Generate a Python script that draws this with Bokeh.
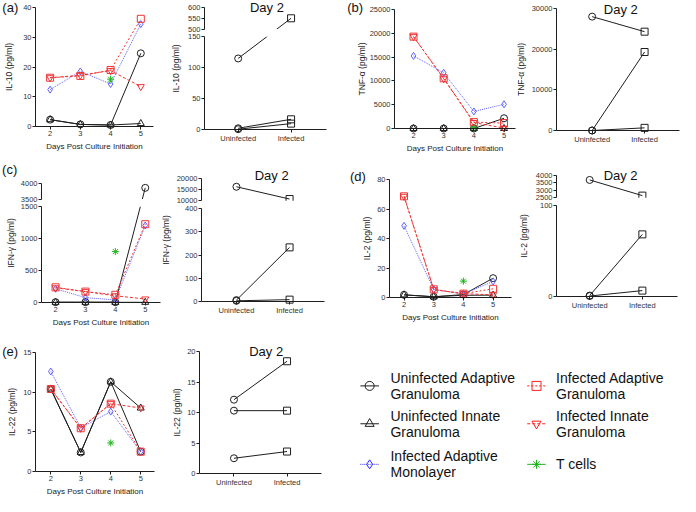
from bokeh.plotting import figure
from bokeh.layouts import row, column
from bokeh.models import (Range1d, FixedTicker, ColumnDataSource, CustomJSTransform,
                          CustomJSTickFormatter, BoxAnnotation, Label, LinearAxis, AllLabels)
from bokeh.transform import transform
from bokeh.core.properties import value
from bokeh.embed import file_html
from bokeh.resources import INLINE

# ---------------- data ----------------
days = [2, 3, 4, 5]
tcell_days = [4]
groups = ["Uninfected", "Infected"]

# (a) IL-10
il10_uninf_adaptive_gran = [2.3, 0.7, 0.5, 24.6]
il10_uninf_innate_gran = [2.3, 0.7, 0.5, 1.0]
il10_inf_adaptive_mono = [12.4, 18.5, 14.3, 34.4]
il10_inf_adaptive_gran = [16.4, 17.0, 19.0, 36.2]
il10_inf_innate_gran = [16.4, 17.2, 18.8, 13.4]
il10_tcells = [15.9]
il10_day2_uninfected = [115, 2.0, 0.5]
il10_day2_infected = [550, 16.5, 9.5]

# (b) TNF-alpha
tnf_uninf_adaptive_gran = [0, 0, 0, 2150]
tnf_uninf_innate_gran = [0, 0, 0, 0]
tnf_inf_adaptive_mono = [15250, 11700, 3580, 5080]
tnf_inf_adaptive_gran = [19300, 10550, 1340, 1140]
tnf_inf_innate_gran = [19300, 10450, 1250, 80]
tnf_tcells = [150]
tnf_day2_uninfected = [28000, 0, 0]
tnf_day2_infected = [24300, 19300, 650]

# (c) IFN-gamma
ifn_uninf_adaptive_gran = [5, 5, 5, 3860]
ifn_uninf_innate_gran = [3, 3, 3, 3]
ifn_inf_adaptive_mono = [215, 76, 40, 1207]
ifn_inf_adaptive_gran = [238, 171, 121, 1227]
ifn_inf_innate_gran = [230, 170, 105, 55]
ifn_tcells = [798]
ifn_day2_uninfected = [16300, 6, 3]
ifn_day2_infected = [10800, 233, 8]

# (d) IL-2
il2_uninf_adaptive_gran = [1.8, 0.5, 2.0, 13.1]
il2_uninf_innate_gran = [1.8, 0.5, 1.5, 1.6]
il2_inf_adaptive_mono = [48.6, 5.5, 2.4, 10.9]
il2_inf_adaptive_gran = [68.6, 5.5, 2.6, 5.9]
il2_inf_innate_gran = [68.6, 5.3, 2.6, 1.8]
il2_tcells = [11.1]
il2_day2_uninfected = [3700, 1.0, 0.5]
il2_day2_infected = [2640, 68.5, 6.5]

# (e) IL-22
il22_uninf_adaptive_gran = [10.4, 2.4, 11.3, 2.5]
il22_uninf_innate_gran = [10.4, 2.4, 11.3, 8.0]
il22_inf_adaptive_mono = [12.6, 5.5, 7.55, 2.5]
il22_inf_adaptive_gran = [10.4, 5.45, 8.55, 2.5]
il22_inf_innate_gran = [10.4, 5.45, 8.55, 8.0]
il22_tcells = [3.6]
il22_day2_uninfected = [12.1, 10.3, 2.5]
il22_day2_infected = [18.4, 10.3, 3.6]

legend_labels = {
    "uag": ["Uninfected Adaptive", "Granuloma"],
    "uig": ["Uninfected Innate", "Granuloma"],
    "iam": ["Infected Adaptive", "Monolayer"],
    "iag": ["Infected Adaptive", "Granuloma"],
    "iig": ["Infected Innate", "Granuloma"],
    "tc": ["T cells"],
}

# ---------------- style ----------------
SX = 680 / 696
SY = 496 / 512
FONT = "Liberation Sans"
INK = "#1e1e1e"
RED = "#ff2020"
BLUE = "#2a2aff"
GREEN = "#1fb41f"
TICK = 3
MSIZE = 7

STY = {
    "uag": dict(marker="circle", color=INK, dash="solid", plot_line=INK),
    "uig": dict(marker="triangle", color=INK, dash="solid", plot_line=INK),
    "iam": dict(marker="diamond", color=BLUE, dash="1 1", plot_line="#6060ff"),
    "iag": dict(marker="square", color=RED, dash="2 2", plot_line="#f03434"),
    "iig": dict(marker="inverted_triangle", color=RED, dash="3 2", plot_line="#f03434"),
    "tc": dict(marker="asterisk", color=GREEN, dash="solid", plot_line=GREEN),
}


def px(v, s):
    return int(round(v * s))


def make_break(lo, hi, gap, k):
    return CustomJSTransform(
        args=dict(lo=lo, hi=hi, gap=gap, k=k),
        func="return x <= lo ? x : lo + gap + (x - hi) * k;",
        v_func="""
const out = new Array(xs.length);
for (let i = 0; i < xs.length; i++) {
  const v = xs[i];
  out[i] = v <= lo ? v : lo + gap + (v - hi) * k;
}
return out;
""")


def fmt_js(pos, labels):
    return CustomJSTickFormatter(
        args=dict(pos=[float(v) for v in pos], lab=list(labels)),
        code="""
let best = 0; let bd = Infinity;
for (let i = 0; i < pos.length; i++) {
  const d = Math.abs(pos[i] - tick);
  if (d < bd) { bd = d; best = i; }
}
return lab[best];
""")


def yspec(field, tr):
    return field if tr is None else transform(field, tr)


def style_axis(ax):
    ax.axis_line_color = INK
    ax.axis_line_width = 1
    ax.major_tick_line_color = INK
    ax.major_tick_in = 0
    ax.major_tick_out = TICK
    ax.minor_tick_line_color = None
    ax.major_label_policy = AllLabels()
    ax.major_label_text_font = FONT
    ax.major_label_text_font_size = "7.5px"
    ax.major_label_text_color = "#333333"
    ax.major_label_standoff = 1
    ax.axis_label_text_font = FONT
    ax.axis_label_text_font_size = "8.5px"
    ax.axis_label_text_font_style = "normal"
    ax.axis_label_text_color = "#222222"


def panel(cell, frame, xspan, ymax, yticks, ylabel, ylab_standoff, brk=None,
          xticks=None, xlabels=None, xlabel=None, xlab_standoff=3):
    x0, y0, x1, y1 = cell
    fl, ft, fr, fb = frame
    if brk is not None:
        by0, bylo, byhi, bytop, lo, hi, top = brk
        upp = lo / (by0 - bylo)
        gap = (bylo - byhi) * upp
        k = (byhi - bytop) / (top - hi) * upp
        ytop = lo + gap + (top - hi) * k
        fwd = lambda v: v if v <= lo else lo + gap + (v - hi) * k
        tr = make_break(lo, hi, gap, k)
    else:
        ytop = ymax
        fwd = lambda v: v
        tr = None
    W = px(x1, SX) - px(x0, SX)
    H = px(y1, SY) - px(y0, SY)
    xs, xe = xspan
    ppx = (px(fr, SX) - px(fl, SX)) / (xe - xs)
    ppy = (px(fb, SY) - px(ft, SY)) / ytop
    xr = Range1d(xs - (px(fl, SX) - px(x0, SX)) / ppx, xe + (px(x1, SX) - px(fr, SX)) / ppx)
    yr = Range1d(-(px(y1, SY) - px(fb, SY)) / ppy, ytop + (px(ft, SY) - px(y0, SY)) / ppy)
    p = figure(width=W, height=H, output_backend="svg", toolbar_location=None,
               x_range=xr, y_range=yr, x_axis_location=None, y_axis_location=None,
               min_border=0)
    p.outline_line_color = None
    p.grid.visible = False
    p.background_fill_color = "white"
    p.border_fill_color = "white"

    xax = LinearAxis(fixed_location=0, bounds=(xs, xe), ticker=FixedTicker(ticks=list(xticks)))
    style_axis(xax)
    if xlabels is not None:
        xax.formatter = fmt_js(xticks, xlabels)
    if xlabel:
        xax.axis_label = xlabel
        xax.axis_label_text_font_size = "8px"
        xax.axis_label_standoff = xlab_standoff
    p.add_layout(xax, "below")

    if brk is not None:
        low_t = [t for t in yticks if t <= lo]
        high_t = [t for t in yticks if t >= hi]
        # two line+tick segments of the broken axis (labels drawn by the label axis)
        for bnds, tks in (((0, lo), low_t), ((lo + gap, ytop), [fwd(t) for t in high_t])):
            seg = LinearAxis(fixed_location=xs, bounds=bnds, ticker=FixedTicker(ticks=tks))
            style_axis(seg)
            seg.major_label_text_color = None
            seg.major_label_text_font_size = "1px"
            p.add_layout(seg, "left")
        allpos = [fwd(t) for t in yticks]
        lab = LinearAxis(fixed_location=xs, bounds=(0, ytop), ticker=FixedTicker(ticks=allpos))
        style_axis(lab)
        lab.axis_line_color = None
        lab.major_tick_line_color = None
        lab.formatter = fmt_js(allpos, [str(t) for t in yticks])
        lab.axis_label = ylabel
        lab.axis_label_standoff = int(round(ylab_standoff))
        p.add_layout(lab, "left")
        p.add_layout(BoxAnnotation(bottom=lo, top=lo + gap, left=xs + 0.01 * (xe - xs),
                                   right=xe, fill_color="white", fill_alpha=1,
                                   line_color=None))
    else:
        yax = LinearAxis(fixed_location=xs, bounds=(0, ytop), ticker=FixedTicker(ticks=list(yticks)))
        style_axis(yax)
        yax.formatter = fmt_js(yticks, [str(t) for t in yticks])
        yax.axis_label = ylabel
        yax.axis_label_standoff = int(round(ylab_standoff))
        p.add_layout(yax, "left")

    p._ytop = ytop
    p._tr = tr
    p._xs = xs
    p._xe = xe
    p._frame = frame
    return p


def draw_series(p, vals, key, xvals=days):
    st = STY[key]
    src = ColumnDataSource(dict(x=list(xvals), v=list(vals)))
    y = yspec("v", p._tr)
    if len(vals) > 1:
        p.line(x="x", y=y, source=src, line_color=st["plot_line"], line_dash=st["dash"],
               line_width=1)
    p.scatter(x="x", y=y, source=src, marker=st["marker"], size=MSIZE,
              line_color=st["plot_line"], fill_color=None, line_width=1)


def draw_time(p, uag, uig, iam, iag, iig, tc):
    draw_series(p, uag, "uag")
    draw_series(p, uig, "uig")
    draw_series(p, iam, "iam")
    draw_series(p, iag, "iag")
    draw_series(p, iig, "iig")
    draw_series(p, tc, "tc", tcell_days)


def draw_day2(p, uninf, inf):
    n = len(uninf)
    src = ColumnDataSource(dict(xu=[groups.index("Uninfected")] * n,
                                xi=[groups.index("Infected")] * n,
                                u=list(uninf), i=list(inf)))
    p.segment(x0="xu", y0=yspec("u", p._tr), x1="xi", y1=yspec("i", p._tr), source=src,
              line_color=INK, line_width=1)
    p.scatter(x="xu", y=yspec("u", p._tr), source=src, marker="circle", size=MSIZE,
              line_color=INK, fill_color=None, line_width=1)
    p.scatter(x="xi", y=yspec("i", p._tr), source=src, marker="square", size=MSIZE,
              line_color=INK, fill_color=None, line_width=1)


def add_text(p, text, lx, ly, size, align):
    # lx, ly: reference-pixel position of the text anchor
    fl, ft, fr, fb = p._frame
    xd = p._xs + (lx - fl) / (fr - fl) * (p._xe - p._xs)
    yd = (fb - ly) / (fb - ft) * p._ytop
    p.add_layout(Label(x=xd, y=yd, text=text, text_font=FONT, text_font_size=size,
                       text_align=align, text_baseline="middle", text_color="#111111"))


XL = "Days Post Culture Initiation"
gx = list(range(len(groups)))

# Row 1
A1 = panel((0, 0, 170, 160), (36, 7, 157, 130), (1.516, 5.42), 40, [0, 10, 20, 30, 40],
           "IL-10 (pg/ml)", 6, xticks=days, xlabel=XL)
draw_time(A1, il10_uninf_adaptive_gran, il10_uninf_innate_gran, il10_inf_adaptive_mono,
          il10_inf_adaptive_gran, il10_inf_innate_gran, il10_tcells)
add_text(A1, "(a)", 2, 7.5, "13px", "left")

A2 = panel((170, 0, 350, 160), (209, 7, 334, 133), (-0.637, 1.67), None,
           [0, 50, 100, 150, 500, 550, 600], "IL-10 (pg/ml)", 4,
           brk=(133, 37.3, 29.3, 7, 150, 500, 600), xticks=gx, xlabels=groups)
draw_day2(A2, il10_day2_uninfected, il10_day2_infected)
add_text(A2, "Day 2", 273, 7, "13px", "center")

B1 = panel((350, 0, 529, 160), (403.3, 9.3, 526.7, 132.3), (1.37, 5.38), 25000,
           [0, 5000, 10000, 15000, 20000, 25000], "TNF-α (pg/ml)", 0, xticks=days, xlabel=XL)
draw_time(B1, tnf_uninf_adaptive_gran, tnf_uninf_innate_gran, tnf_inf_adaptive_mono,
          tnf_inf_adaptive_gran, tnf_inf_innate_gran, tnf_tcells)
add_text(B1, "(b)", 355, 7.5, "13px", "left")

B2 = panel((529, 0, 696, 160), (569.3, 8, 695, 134.7), (-0.68, 1.666), 30000,
           [0, 10000, 20000, 30000], "TNF-α (pg/ml)", 3, xticks=gx, xlabels=groups)
draw_day2(B2, tnf_day2_uninfected, tnf_day2_infected)
add_text(B2, "Day 2", 635, 9.3, "13px", "center")

# Row 2
C1 = panel((0, 160, 166, 336), (42.3, 189.3, 164, 312), (1.53, 5.51), None,
           [0, 500, 1000, 1500, 3500, 4000], "IFN-γ (pg/ml)", 2,
           brk=(312, 213.3, 205.3, 189.3, 1500, 3500, 4000), xticks=days, xlabel=XL)
draw_time(C1, ifn_uninf_adaptive_gran, ifn_uninf_innate_gran, ifn_inf_adaptive_mono,
          ifn_inf_adaptive_gran, ifn_inf_innate_gran, ifn_tcells)
add_text(C1, "(c)", 2, 175, "13px", "left")

C2 = panel((166, 160, 350, 336), (206, 184, 331.7, 310.7), (-0.657, 1.657), None,
           [0, 100, 200, 300, 400, 10000, 15000, 20000], "IFN-γ (pg/ml)", 3,
           brk=(310.7, 215, 207, 184, 400, 10000, 20000), xticks=gx, xlabels=groups)
draw_day2(C2, ifn_day2_uninfected, ifn_day2_infected)
add_text(C2, "Day 2", 277.7, 181, "13px", "center")

D1 = panel((350, 160, 528, 336), (397.7, 184.3, 523.3, 306.7), (1.51, 5.62), 80,
           [0, 20, 40, 60, 80], "IL-2 (pg/ml)", 2, xticks=days, xlabel=XL)
draw_time(D1, il2_uninf_adaptive_gran, il2_uninf_innate_gran, il2_inf_adaptive_mono,
          il2_inf_adaptive_gran, il2_inf_innate_gran, il2_tcells)
add_text(D1, "(d)", 357, 181.7, "13px", "left")

D2 = panel((528, 160, 696, 336), (569.3, 180.3, 693.3, 305.7), (-0.63, 1.667), None,
           [0, 100, 2500, 3000, 3500, 4000], "IL-2 (pg/ml)", 4,
           brk=(305.7, 211.7, 203.3, 180.3, 100, 2500, 4000), xticks=gx, xlabels=groups)
draw_day2(D2, il2_day2_uninfected, il2_day2_infected)
add_text(D2, "Day 2", 635, 180, "13px", "center")

# Row 3
E1 = panel((0, 336, 166, 512), (36, 363.7, 157.3, 485.7), (1.49, 5.46), 15,
           [0, 5, 10, 15], "IL-22 (pg/ml)", 3, xticks=days, xlabel=XL)
draw_time(E1, il22_uninf_adaptive_gran, il22_uninf_innate_gran, il22_inf_adaptive_mono,
          il22_inf_adaptive_gran, il22_inf_innate_gran, il22_tcells)
add_text(E1, "(e)", 2, 363, "13px", "left")

E2 = panel((166, 336, 340, 512), (204, 362.3, 329, 488.7), (-0.649, 1.649), 20,
           [0, 5, 10, 15, 20], "IL-22 (pg/ml)", 2, xticks=gx, xlabels=groups)
draw_day2(E2, il22_day2_uninfected, il22_day2_infected)
add_text(E2, "Day 2", 272.3, 362.3, "13px", "center")

# Legend (coordinates in reference pixel space)
LW = px(696, SX) - px(340, SX)
LH = px(512, SY) - px(336, SY)
leg = figure(width=LW, height=LH, output_backend="svg", toolbar_location=None,
             x_range=Range1d(340, 696), y_range=Range1d(512, 336),
             x_axis_location=None, y_axis_location=None, min_border=0)
leg.outline_line_color = None
leg.grid.visible = False
leg_layout = [("uag", 378, 399.3, 397.5), ("uig", 378, 399.3, 436.7), ("iam", 378, 399.3, 478.7),
              ("iag", 548.7, 568.7, 397.5), ("iig", 548.7, 568.7, 436.7), ("tc", 548.7, 568.7, 478.7)]
tx, ty, tt = [], [], []
for key, mx, txx, my in leg_layout:
    st = STY[key]
    leg.line(x=[mx - 9.5, mx + 9.5], y=[my, my], line_color=st["color"], line_dash=st["dash"],
             line_width=1)
    leg.scatter(x=[mx], y=[my], marker=st["marker"], size=9, line_color=st["color"],
                fill_color=None, line_width=1)
    lines = legend_labels[key]
    if len(lines) == 1:
        tx.append(txx); ty.append(my); tt.append(lines[0])
    else:
        tx += [txx, txx]; ty += [my - 8.4, my + 8.4]; tt += lines
leg.text(x=tx, y=ty, text=tt, text_font=value(FONT), text_font_size=value("14px"),
         text_baseline="middle", text_align="left", text_color="#111111")

lay = column(row(A1, A2, B1, B2), row(C1, C2, D1, D2), row(E1, E2, leg))

with open("out.html", "w") as f:
    f.write(file_html(lay, INLINE, title="Cytokines"))
